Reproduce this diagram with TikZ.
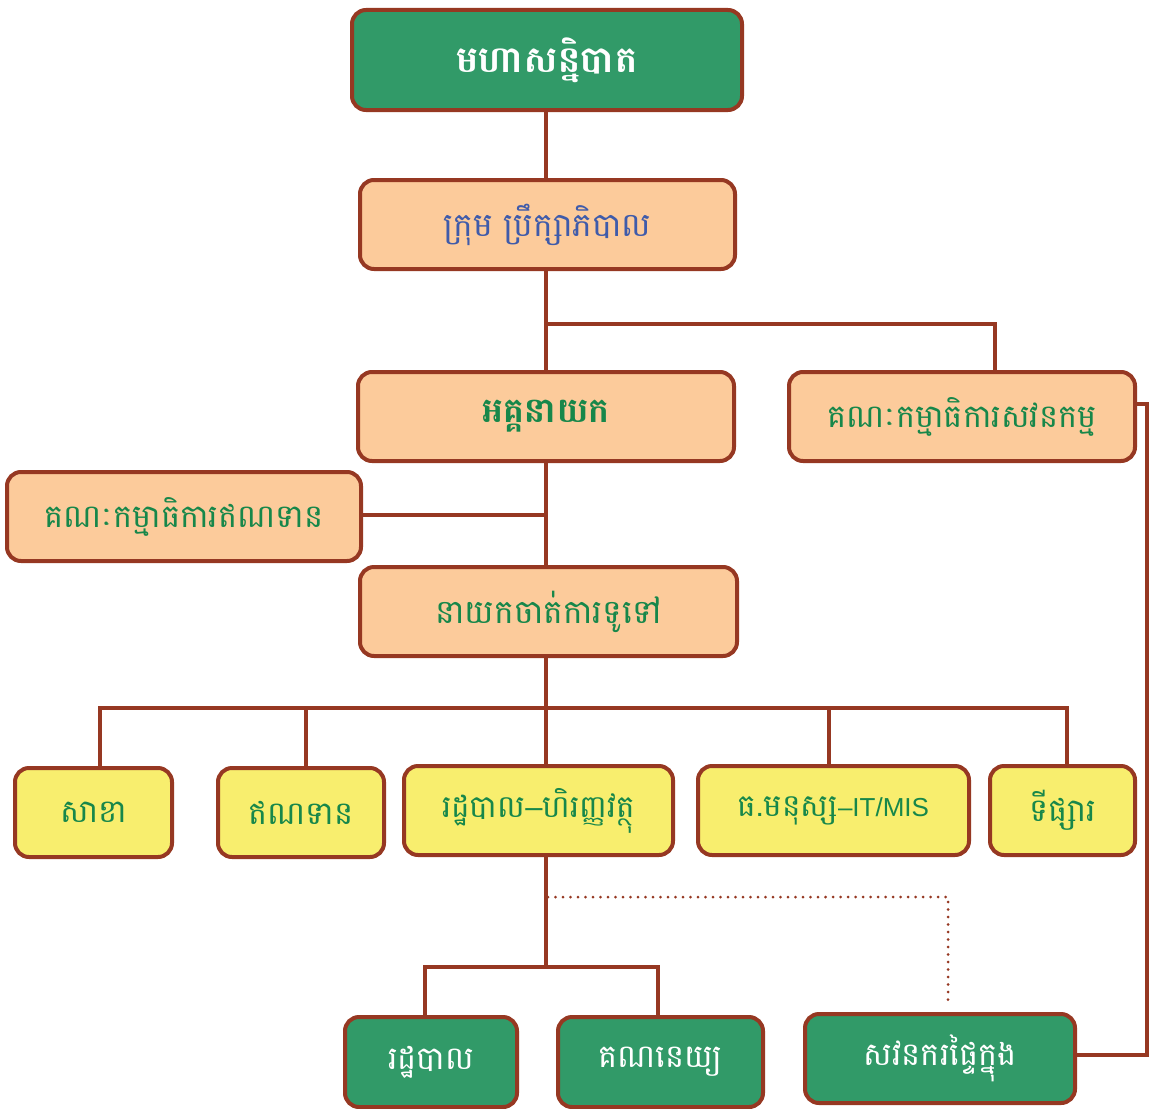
\documentclass[tikz,border=0pt]{standalone}
\usepackage{fontspec}
\newfontfamily\km[Script=Khmer]{Battambang}
\newfontfamily\kmb[Script=Khmer]{Battambang Bold}
\setmainfont{Liberation Sans}
\newcommand{\lat}[1]{{\fontspec{Liberation Sans}#1}}
\newcommand{\dn}[1]{\raisebox{-4pt}{#1}}
\definecolor{brd}{HTML}{963822}
\definecolor{gfill}{HTML}{319A68}
\definecolor{pfill}{HTML}{FCCB9B}
\definecolor{yfill}{HTML}{F8EE6E}
\definecolor{gtext}{HTML}{17874A}
\definecolor{btext}{HTML}{3F5BAA}
\begin{document}
\begin{tikzpicture}[x=1pt,y=-1pt,
  box/.style={draw=brd,line width=4pt,rounded corners=14pt,inner sep=0pt,anchor=north west},
  gbox/.style={box,fill=gfill,text=white},
  pbox/.style={box,fill=pfill,text=gtext},
  ybox/.style={box,fill=yfill,text=gtext},
  conn/.style={draw=brd,line width=4.5pt},
  dotconn/.style={draw=brd,line width=3pt,line cap=round,dash pattern=on 0pt off 7.5pt}]
\useasboundingbox (0,0) rectangle (1158,1108);
% boxes
\node[gbox,minimum width=390pt,minimum height=100pt] (gm) at (350,8) {\dn{\kmb\fontsize{37}{44}\selectfont មហាសន្និបាត}};
\node[pbox,text=btext,minimum width=375pt,minimum height=89pt] (bd) at (358,178) {\dn{\km\fontsize{33}{40}\selectfont ក្រុម ប្រឹក្សាភិបាល}};
\node[pbox,minimum width=376pt,minimum height=89pt] (ceo) at (356,370) {\dn{\kmb\fontsize{35}{42}\selectfont អគ្គនាយក}};
\node[pbox,minimum width=346pt,minimum height=89pt] (ac) at (787,370) {\dn{\km\fontsize{32}{38}\selectfont គណៈកម្មាធិការសវនកម្ម}};
\node[pbox,minimum width=354pt,minimum height=89pt] (cc) at (5,470) {\dn{\km\fontsize{32}{38}\selectfont គណៈកម្មាធិការឥណទាន}};
\node[pbox,minimum width=377pt,minimum height=89pt] (gmg) at (358,565) {\dn{\km\fontsize{33}{40}\selectfont នាយកចាត់ការទូទៅ}};
\node[ybox,minimum width=157pt,minimum height=89pt] (br) at (13,766) {\dn{\km\fontsize{32}{38}\selectfont សាខា}};
\node[ybox,minimum width=166pt,minimum height=89pt] (cr) at (216,766) {\dn{\km\fontsize{32}{38}\selectfont ឥណទាន}};
\node[ybox,minimum width=269pt,minimum height=89pt] (af) at (402,764) {\dn{\km\fontsize{31}{38}\selectfont រដ្ឋបាល\lat{–}ហិរញ្ញវត្ថុ}};
\node[ybox,minimum width=271pt,minimum height=89pt] (hr) at (696,764) {\dn{\km\fontsize{31}{38}\selectfont ធ.មនុស្ស{\fontsize{26}{30}\selectfont\lat{–IT/MIS}}}};
\node[ybox,minimum width=145pt,minimum height=89pt] (mk) at (988,764) {\dn{\km\fontsize{32}{38}\selectfont ទីផ្សារ}};
\node[gbox,minimum width=172pt,minimum height=90pt] (ad) at (343,1015) {\dn{\km\fontsize{32}{38}\selectfont រដ្ឋបាល}};
\node[gbox,minimum width=205pt,minimum height=90pt] (acc) at (556,1015) {\dn{\km\fontsize{32}{38}\selectfont គណនេយ្យ}};
\node[gbox,minimum width=270pt,minimum height=89pt] (ia) at (803,1012) {\dn{\km\fontsize{32}{38}\selectfont សវនករផ្ទៃក្នុង}};
% connectors
\coordinate (j1) at (546,324);
\coordinate (j2) at (546,515);
\coordinate (bus) at (546,708);
\coordinate (j3) at (546,967);
\coordinate (dj) at (548,897);
\draw[conn] (gm.south -| 546,0) -- (bd.north -| 546,0);
\draw[conn] (bd.south -| 546,0) -- (ceo.north -| 546,0);
\draw[conn] (j1) -- (995,324) -- (ac.north -| 995,0);
\draw[conn] (ceo.south -| 546,0) -- (gmg.north -| 546,0);
\draw[conn] (cc.east |- j2) -- (j2);
\draw[conn] (gmg.south -| 546,0) -- (bus);
\draw[conn] (br.north -| 100,0) -- (100,708) -- (1067,708) -- (mk.north -| 1067,0);
\draw[conn] (cr.north -| 306,0) -- (306,708);
\draw[conn] (hr.north -| 829,0) -- (829,708);
\draw[conn] (bus) -- (af.north -| 546,0);
\draw[conn] (af.south -| 546,0) -- (j3);
\draw[conn] (ad.north -| 425,0) -- (425,967) -- (658,967) -- (acc.north -| 658,0);
\draw[conn] (ac.east |- 0,404) -- (1147,404) -- (1147,1055) -- (ia.east |- 0,1055);
\draw[dotconn] (dj) -- (948,897) -- (948,1003);
\end{tikzpicture}
\end{document}
